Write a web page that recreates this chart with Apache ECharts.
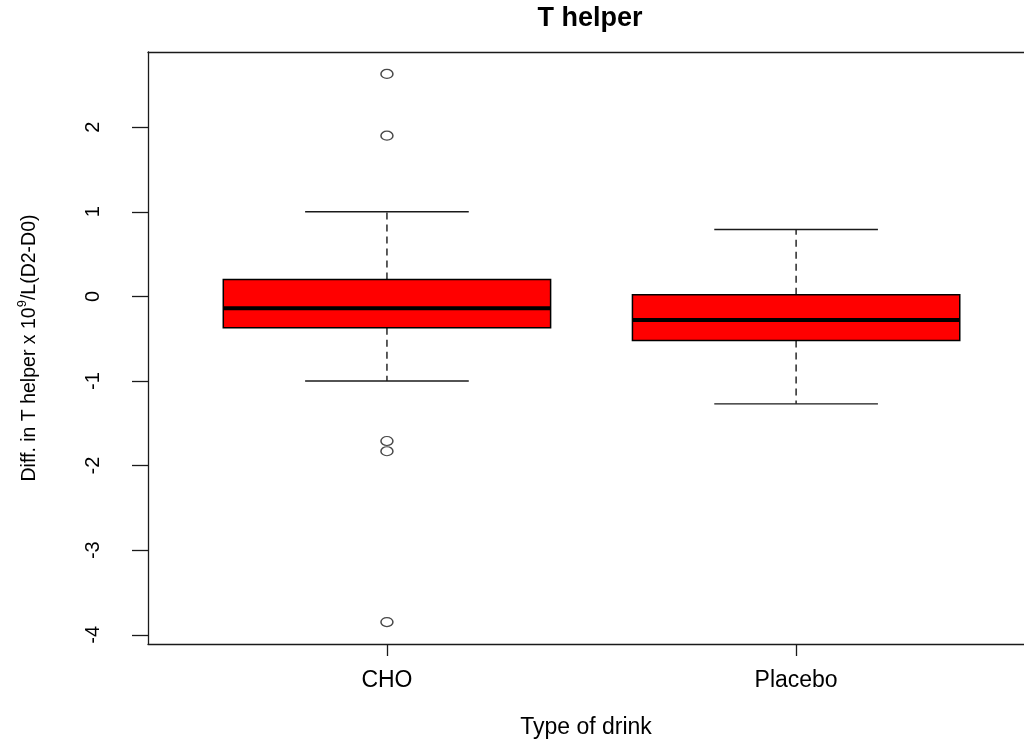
<!DOCTYPE html>
<html>
<head>
<meta charset="utf-8">
<title>T helper</title>
<script src="https://cdn.jsdelivr.net/npm/echarts@6/dist/echarts.min.js"></script>
<style>
  html, body { margin: 0; padding: 0; background: #fff; }
  #chart { width: 1024px; height: 744px; }
</style>
</head>
<body>
<div id="chart"></div>
<script>
// Box summaries per drink group (x 10^9/L, day 2 minus day 0)
const categories = ['CHO', 'Placebo'];
const lowerWhisker = [-1.00, -1.27];
const q1 = [-0.37, -0.52];
const median = [-0.14, -0.28];
const q3 = [0.20, 0.02];
const upperWhisker = [1.00, 0.79];
// Points beyond the whiskers, one list per group
const outliers = [
  [2.63, 1.90, -1.71, -1.83, -3.85],
  []
];
const yTicks = [-4, -3, -2, -1, 0, 1, 2];
const groupPositions = [1, 2];

const FONT = 'Liberation Sans, Arial, Helvetica, sans-serif';

// y range padded by 4% of the data extent on each side
const allVals = [].concat(lowerWhisker, upperWhisker, ...outliers);
const lo = Math.min(...allVals), hi = Math.max(...allVals);
const pad = (hi - lo) * 0.04;

// x range: plot runs past the right edge of the page
const X_MIN = 0.416, X_MAX = 2.557;

const boxData = categories.map((c, i) => [groupPositions[i], lowerWhisker[i], q1[i], median[i], q3[i], upperWhisker[i]]);
const outlierData = [];
outliers.forEach((list, i) => list.forEach(v => outlierData.push([groupPositions[i], v])));

const BOX_HALF = 0.4;
const CAP_HALF = 0.2;
const INK = '#1a1a1a';

function renderBox(params, api) {
  const x = api.value(0);
  const low = api.value(1), a = api.value(2), med = api.value(3), b = api.value(4), high = api.value(5);
  const c = (xx, yy) => api.coord([xx, yy]);
  const pLow = c(x, low), pA = c(x, a), pB = c(x, b), pHigh = c(x, high);
  const boxL = c(x - BOX_HALF, b), boxR = c(x + BOX_HALF, a);
  const medL = c(x - BOX_HALF, med), medR = c(x + BOX_HALF, med);
  const capLoL = c(x - CAP_HALF, low), capLoR = c(x + CAP_HALF, low);
  const capHiL = c(x - CAP_HALF, high), capHiR = c(x + CAP_HALF, high);
  const dashed = { stroke: INK, lineWidth: 1.4, lineDash: [7, 5] };
  const solid = { stroke: INK, lineWidth: 1.4 };
  return {
    type: 'group',
    children: [
      { type: 'line', shape: { x1: pB[0], y1: pB[1], x2: pHigh[0], y2: pHigh[1] }, style: dashed },
      { type: 'line', shape: { x1: pA[0], y1: pA[1], x2: pLow[0], y2: pLow[1] }, style: dashed },
      { type: 'line', shape: { x1: capHiL[0], y1: capHiL[1], x2: capHiR[0], y2: capHiR[1] }, style: solid },
      { type: 'line', shape: { x1: capLoL[0], y1: capLoL[1], x2: capLoR[0], y2: capLoR[1] }, style: solid },
      { type: 'rect',
        shape: { x: boxL[0], y: boxL[1], width: boxR[0] - boxL[0], height: boxR[1] - boxL[1] },
        style: { fill: '#ff0000', stroke: '#000', lineWidth: 1.5 } },
      { type: 'line', shape: { x1: medL[0], y1: medL[1], x2: medR[0], y2: medR[1] },
        style: { stroke: '#000', lineWidth: 4 } }
    ]
  };
}

const frameLine = { show: true, onZero: false, lineStyle: { color: INK, width: 1.3 } };

const chart = echarts.init(document.getElementById('chart'), null, { renderer: 'canvas' });
chart.setOption({
  animation: false,
  backgroundColor: '#fff',
  textStyle: { fontFamily: FONT, color: '#000' },
  title: {
    text: 'T helper',
    left: 590,
    top: 5,
    padding: 0,
    textAlign: 'center',
    textStyle: { fontFamily: FONT, fontWeight: 'bold', fontSize: 27, lineHeight: 27, color: '#000' }
  },
  grid: {
    left: 148, top: 52, right: 0, height: 592,
    show: false,
    containLabel: false
  },
  xAxis: [
    {
      type: 'value',
      position: 'bottom',
      min: X_MIN,
      max: X_MAX,
      name: 'Type of drink',
      nameLocation: 'middle',
      nameGap: 72,
      nameTextStyle: { fontFamily: FONT, fontSize: 23, lineHeight: 23, color: '#000' },
      axisLine: frameLine,
      splitLine: { show: false },
      axisTick: { show: true, customValues: groupPositions, length: 12, lineStyle: { color: INK, width: 1.3 } },
      axisLabel: {
        customValues: groupPositions,
        formatter: v => categories[groupPositions.indexOf(Math.round(v))] || '',
        fontFamily: FONT, fontSize: 23, lineHeight: 23, color: '#000', margin: 25
      }
    },
    {
      type: 'value',
      position: 'top',
      min: X_MIN,
      max: X_MAX,
      axisLine: frameLine,
      axisTick: { show: false },
      axisLabel: { show: false },
      splitLine: { show: false }
    }
  ],
  yAxis: {
    type: 'value',
    min: lo - pad,
    max: hi + pad,
    name: 'Diff. in T helper x 10{sup|9}/L(D2-D0)',
    nameLocation: 'middle',
    nameGap: 105,
    nameTextStyle: {
      fontFamily: FONT, fontSize: 19.5, color: '#000',
      rich: {
        sup: { fontFamily: FONT, fontSize: 13, lineHeight: 13, verticalAlign: 'top', color: '#000' }
      },
      lineHeight: 27,
      verticalAlign: 'bottom'
    },
    axisLine: frameLine,
    splitLine: { show: false },
    axisTick: { show: true, customValues: yTicks, length: 16, lineStyle: { color: INK, width: 1.3 } },
    axisLabel: {
      customValues: yTicks,
      rotate: 90,
      fontFamily: FONT, fontSize: 20, lineHeight: 20, color: '#000', margin: 45
    }
  },
  series: [
    {
      type: 'custom',
      name: 'box',
      renderItem: renderBox,
      data: boxData,
      encode: { x: 0, y: [1, 2, 3, 4, 5] },
      z: 3
    },
    {
      type: 'scatter',
      name: 'outliers',
      data: outlierData,
      symbol: 'circle',
      symbolSize: [12, 9],
      itemStyle: { color: '#fff', borderColor: INK, borderWidth: 1.3 },
      z: 4
    }
  ]
});
</script>
</body>
</html>
